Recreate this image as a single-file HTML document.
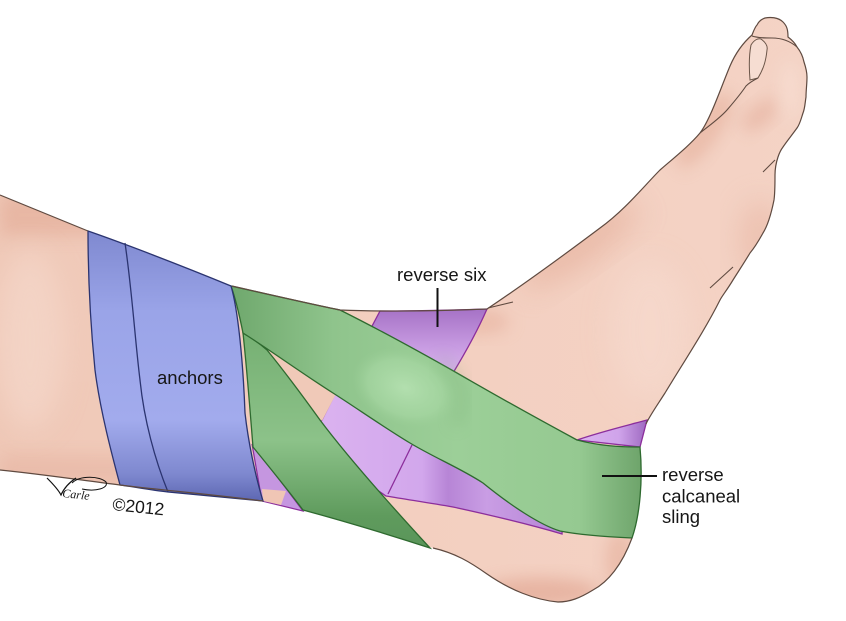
<!DOCTYPE html>
<html><head><meta charset="utf-8"><style>
html,body{margin:0;padding:0;background:#fff;}
body{width:846px;height:621px;overflow:hidden;}
svg{display:block;}
text{font-family:"Liberation Sans",Arial,sans-serif;fill:#161616;}
</style></head><body>
<svg width="846" height="621" viewBox="0 0 846 621" xmlns="http://www.w3.org/2000/svg">
<defs>
  <linearGradient id="skinG" x1="0" y1="0" x2="1" y2="0">
    <stop offset="0" stop-color="#efc8b7"/>
    <stop offset="0.5" stop-color="#f3cfc0"/>
    <stop offset="1" stop-color="#f4d3c5"/>
  </linearGradient>
  <linearGradient id="blueG" x1="0" y1="0" x2="0" y2="1">
    <stop offset="0" stop-color="#7f89d0"/>
    <stop offset="0.3" stop-color="#9aa4e8"/>
    <stop offset="0.7" stop-color="#a2abed"/>
    <stop offset="0.9" stop-color="#7e88cf"/>
    <stop offset="1" stop-color="#5d67b2"/>
  </linearGradient>
  <linearGradient id="green1G" x1="0" y1="0" x2="1" y2="0">
    <stop offset="0" stop-color="#6fa86d"/>
    <stop offset="0.25" stop-color="#8fc48c"/>
    <stop offset="0.55" stop-color="#9ccf98"/>
    <stop offset="0.85" stop-color="#95c991"/>
    <stop offset="1" stop-color="#6ea46b"/>
  </linearGradient>
  <linearGradient id="green2G" x1="0" y1="0" x2="0" y2="1">
    <stop offset="0" stop-color="#76b073"/>
    <stop offset="0.5" stop-color="#8cc289"/>
    <stop offset="0.85" stop-color="#5f9b5d"/>
    <stop offset="1" stop-color="#5a955a"/>
  </linearGradient>
  <linearGradient id="purpTopG" x1="0" y1="0" x2="0" y2="1">
    <stop offset="0" stop-color="#a672c6"/>
    <stop offset="0.6" stop-color="#c89ce2"/>
    <stop offset="1" stop-color="#dcb4f0"/>
  </linearGradient>
  <linearGradient id="purpMidG" x1="0" y1="0" x2="1" y2="0">
    <stop offset="0" stop-color="#dcb4f0"/>
    <stop offset="0.45" stop-color="#d2a7ec"/>
    <stop offset="0.55" stop-color="#b785d6"/>
    <stop offset="0.7" stop-color="#c99de4"/>
    <stop offset="1" stop-color="#b583d5"/>
  </linearGradient>
  <linearGradient id="purpHeelG" x1="0" y1="0" x2="1" y2="0">
    <stop offset="0" stop-color="#dcb4f0"/>
    <stop offset="0.6" stop-color="#cfa3ea"/>
    <stop offset="1" stop-color="#9d68c0"/>
  </linearGradient>
  <radialGradient id="bumpG" cx="0.5" cy="0.5" r="0.5">
    <stop offset="0" stop-color="#b4e0b0" stop-opacity="0.95"/>
    <stop offset="0.7" stop-color="#a8d8a4" stop-opacity="0.6"/>
    <stop offset="1" stop-color="#9ccf98" stop-opacity="0"/>
  </radialGradient>
  <filter id="blur8" x="-50%" y="-50%" width="200%" height="200%"><feGaussianBlur stdDeviation="8"/></filter>
  <filter id="blur14" x="-50%" y="-50%" width="200%" height="200%"><feGaussianBlur stdDeviation="14"/></filter>
  <path id="skinPath" d="M0,195 L88,231 C150,255 200,275 232,286 C280,297 315,305 340,310 C390,312 440,311 487,309 C520,287 560,258 600,228 C625,210 645,185 660,170 C675,157 690,145 700,133 C710,120 720,90 730,66 C736,52 744,42 752,35 C754,30 755,27 757,25 C759,21 762,19 765,18 C770,17 778,17 783,22 C787,26 788,30 788,37 C792,40 795,43 797,47 C801,52 803,57 804,62 C806,68 807,72 807,77 C807,84 806,90 806,97 C805,103 805,108 803,113 C801,119 800,124 797,128 C792,135 787,141 783,147 C780,151 779,154 778,157 C776,163 775,168 775,175 C775,185 775,193 774,200 C771,215 768,225 763,233 C758,242 755,247 750,253 C744,263 738,272 733,280 C727,290 722,296 720,300 C705,330 685,360 665,393 C656,407 649,417 646,424 L640,447 C643,480 640,515 632,538 C622,565 608,582 593,590 C580,598 570,602 558,602 C535,600 510,590 487,574 C470,562 455,553 433,548 L303,510 L263,501 C210,494 160,490 120,485 C80,480 40,474 0,470 Z"/>
  <clipPath id="skinClip"><use href="#skinPath"/></clipPath>
</defs>

<!-- skin base -->
<use href="#skinPath" fill="url(#skinG)"/>

<!-- skin shading -->
<g clip-path="url(#skinClip)">
  <rect x="0" y="195" width="100" height="40" fill="#e2a994" opacity="0.55" filter="url(#blur8)"/>
  <rect x="0" y="455" width="130" height="30" fill="#e4ae9b" opacity="0.45" filter="url(#blur8)"/>
  <ellipse cx="30" cy="340" rx="35" ry="90" fill="#f6dace" opacity="0.6" filter="url(#blur14)"/>
  <ellipse cx="580" cy="245" rx="70" ry="18" transform="rotate(-35 580 245)" fill="#e2a893" opacity="0.55" filter="url(#blur14)"/>
  <ellipse cx="705" cy="130" rx="45" ry="14" transform="rotate(-55 705 130)" fill="#e2a893" opacity="0.5" filter="url(#blur8)"/>
  <ellipse cx="760" cy="115" rx="22" ry="10" transform="rotate(-40 760 115)" fill="#dfa08c" opacity="0.45" filter="url(#blur8)"/>
  <ellipse cx="790" cy="90" rx="10" ry="30" fill="#f8e0d5" opacity="0.6" filter="url(#blur8)"/>
  <ellipse cx="760" cy="240" rx="20" ry="40" fill="#e6b09d" opacity="0.5" filter="url(#blur14)"/>
  <ellipse cx="540" cy="592" rx="60" ry="14" fill="#dfa08c" opacity="0.6" filter="url(#blur8)"/>
  <ellipse cx="480" cy="322" rx="30" ry="12" fill="#e4ab97" opacity="0.5" filter="url(#blur8)"/>
  <ellipse cx="620" cy="560" rx="14" ry="30" fill="#e2a793" opacity="0.5" filter="url(#blur8)"/>
  <ellipse cx="650" cy="330" rx="40" ry="70" fill="#f7dcd0" opacity="0.55" filter="url(#blur14)"/>
</g>

<!-- purple: top (reverse six) -->
<path d="M380,311 C420,311 455,310 487,309 C480,325 470,345 453,373 L400,345 L370,330 Z" fill="url(#purpTopG)" stroke="#8c2e9c" stroke-width="1.3"/>
<!-- purple middle -->
<path d="M338,388 L322,420 L305,440 L386,496 C410,500 430,503 453,507 C490,515 525,523 562,534 L565,480 L420,420 Z" fill="url(#purpMidG)" stroke="#8c2e9c" stroke-width="1.3"/>
<path d="M412,445 L388,494" stroke="#8c2e9c" stroke-width="1.3" fill="none"/>
<!-- skin triangle between bands -->
<path d="M265,348 L337,392 L322,421 Z" fill="#f0c9b8"/>
<!-- purple bottom left -->
<path d="M252,444 L262,501 L303,511 L285,487 Z" fill="#c596e0" stroke="#8c2e9c" stroke-width="1.2"/>
<path d="M262,489 L286,491 L281,505 L263,501 Z" fill="#f0c6b5"/>
<!-- purple heel -->
<path d="M577,440 C600,432 625,426 647,420 L640,447 Z" fill="url(#purpHeelG)" stroke="#8c2e9c" stroke-width="1.3"/>

<!-- green band 2 -->
<path d="M243,333 C252,338 260,344 267,350 C285,372 302,395 320,420 C350,460 395,510 430,548 C390,535 340,520 303,510 C288,490 270,468 253,447 C250,410 247,370 243,333 Z" fill="url(#green2G)" stroke="#2e6a2f" stroke-width="1.3"/>

<!-- green band 1 -->
<path d="M231,286 C280,297 315,305 340,310 C370,325 420,352 457,373 C495,395 540,420 577,440 C600,446 620,447 640,447 C643,480 640,515 632,538 C610,537 580,535 560,531 C540,525 510,505 483,483 C460,468 435,458 410,443 C385,428 355,407 333,393 C300,372 270,350 243,333 C240,318 236,300 231,286 Z" fill="url(#green1G)" stroke="#2e6a2f" stroke-width="1.3"/>
<ellipse cx="405" cy="388" rx="55" ry="38" transform="rotate(20 405 388)" fill="url(#bumpG)"/>
<path d="M440,360 C460,375 468,400 455,425" stroke="#6fa56c" stroke-width="6" fill="none" opacity="0.5" filter="url(#blur8)"/>

<!-- blue anchors -->
<path d="M88,231 C120,242 180,265 231,286 C238,310 243,360 245,413 C248,440 255,475 263,501 C220,497 190,494 168,492 C150,490 135,487 120,485 C112,455 100,410 95,370 C90,320 88,270 88,231 Z" fill="url(#blueG)" stroke="#2b3470" stroke-width="1.3"/>
<path d="M125,243 C132,290 135,340 140,380 C144,420 155,460 168,492" stroke="#2b3470" stroke-width="1.3" fill="none"/>

<!-- skin outline -->
<path d="M0,195 L88,231 M232,286 C280,297 315,305 340,310 C390,312 440,311 487,309 C520,287 560,258 600,228 C625,210 645,185 660,170 C675,157 690,145 700,133 C710,120 720,90 730,66 C736,52 744,42 752,35 C754,30 755,27 757,25 C759,21 762,19 765,18 C770,17 778,17 783,22 C787,26 788,30 788,37 C792,40 795,43 797,47 C801,52 803,57 804,62 C806,68 807,72 807,77 C807,84 806,90 806,97 C805,103 805,108 803,113 C801,119 800,124 797,128 C792,135 787,141 783,147 C780,151 779,154 778,157 C776,163 775,168 775,175 C775,185 775,193 774,200 C771,215 768,225 763,233 C758,242 755,247 750,253 C744,263 738,272 733,280 C727,290 722,296 720,300 C705,330 685,360 665,393 C656,407 649,417 646,424 M632,538 C622,565 608,582 593,590 C580,598 570,602 558,602 C535,600 510,590 487,574 C470,562 455,553 433,548 M263,501 C210,494 160,490 120,485 C80,480 40,474 0,470" fill="none" stroke="#5f4a40" stroke-width="1.2"/>
<!-- toe details -->
<path d="M752,36 C758,38 765,38 772,38 C782,38 790,41 797,47" fill="none" stroke="#5f4a40" stroke-width="1.1"/>
<path d="M751,45 C754,40 758,38 761,39 C765,42 768,46 767,50 C766,60 764,68 758,78 L750,80 C749,68 749,55 751,45 Z" fill="#f6ddd2" stroke="#6b5548" stroke-width="1"/>
<path d="M758,78 C752,81 749,83 746,86 C740,95 733,103 727,110 C720,118 710,125 700,133" fill="none" stroke="#5f4a40" stroke-width="1.1"/>
<path d="M763,172 L775,160" fill="none" stroke="#5f4a40" stroke-width="1.1"/>
<path d="M710,288 L733,267" fill="none" stroke="#5f4a40" stroke-width="1.1"/>
<path d="M488,308 L513,302" fill="none" stroke="#5f4a40" stroke-width="1.1"/>

<!-- labels -->
<text x="397" y="281" font-size="18.5">reverse six</text>
<line x1="437.5" y1="288" x2="437.5" y2="327" stroke="#111" stroke-width="2"/>
<text x="157" y="384" font-size="18.5">anchors</text>
<text x="662" y="481" font-size="18.5">reverse</text>
<text x="662" y="502.5" font-size="18.5">calcaneal</text>
<text x="662" y="523" font-size="18.5">sling</text>
<line x1="602" y1="476" x2="657" y2="476" stroke="#111" stroke-width="2"/>

<!-- signature -->
<path d="M47,478 C52,483 58,489 61,495 C64,488 70,482 76,478" fill="none" stroke="#111" stroke-width="1.2"/>
<path d="M72,483 C80,475 100,476 106,482 C109,488 96,492 82,489" fill="none" stroke="#111" stroke-width="1"/>
<text x="62" y="497" font-size="12" font-style="italic" style="font-family:'Liberation Serif',serif" transform="rotate(6 62 497)">Carle</text>
<text x="112" y="510" font-size="17.5" transform="rotate(6 112 510)">©2012</text>
</svg>
</body></html>
